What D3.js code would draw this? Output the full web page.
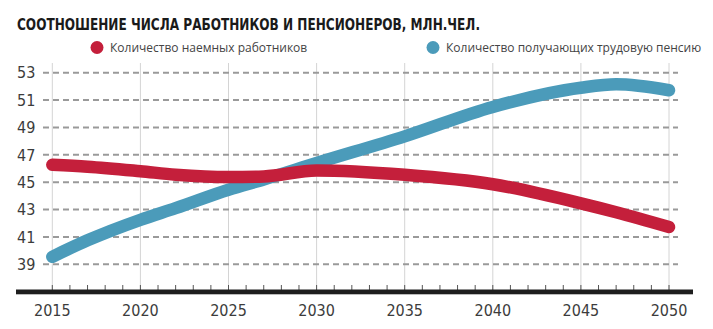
<!DOCTYPE html>
<html>
<head>
<meta charset="utf-8">
<script src="https://cdn.jsdelivr.net/npm/d3@7"></script>
<style>
  body { margin: 0; background: #fff; }
  svg { display: block; }
</style>
</head>
<body>
<div class="line-chart"></div>
<script>
(function() {
var width = 713,
    height = 329;

var svg = d3.select(".line-chart").append("svg")
    .attr("width", width)
    .attr("height", height);

// years and values (mln people)
const years = [2015, 2017, 2020, 2022, 2025, 2027, 2030, 2035, 2040, 2045, 2047, 2050];
const workers = [46.27, 46.13, 45.8, 45.55, 45.37, 45.42, 45.86, 45.54, 44.85, 43.45, 42.8, 41.72];
const pensioners = [39.55, 40.75, 42.25, 43.1, 44.45, 45.2, 46.4, 48.35, 50.5, 51.9, 52.15, 51.72];
const yTicks = [39, 41, 43, 45, 47, 49, 51, 53];
const xTicks = [2015, 2020, 2025, 2030, 2035, 2040, 2045, 2050];

const red = "#c41f3b",
    blue = "#4b9bba";

var x = d3.scaleLinear().domain([2015, 2050]).range([52.3, 669]);
var y = d3.scaleLinear().domain([39, 53]).range([264.3, 72.7]);

var numFont = "'Liberation Sans Narrow', 'DejaVu Sans Condensed', sans-serif";

// title
svg.append("text")
    .attr("x", 17)
    .attr("y", 29.5)
    .attr("textLength", 463)
    .attr("lengthAdjust", "spacingAndGlyphs")
    .style("font-family", numFont)
    .style("font-weight", "bold")
    .style("font-size", "16.5px")
    .style("fill", "#1a1a1a")
    .text("СООТНОШЕНИЕ ЧИСЛА РАБОТНИКОВ И ПЕНСИОНЕРОВ, МЛН.ЧЕЛ.");

// legend
const legend = [
    { label: "Количество наемных работников", color: red, x: 97 },
    { label: "Количество получающих трудовую пенсию", color: blue, x: 433 }
];
var lg = svg.selectAll(".legend")
    .data(legend)
    .enter().append("g")
    .attr("class", "legend")
    .attr("transform", (d) => "translate(" + d.x + ",47.5)");
lg.append("circle").attr("r", 6.5).style("fill", (d) => d.color);
lg.append("text")
    .attr("x", 13)
    .attr("dy", "0.35em")
    .style("font-family", "'Open Sans', sans-serif")
    .style("font-size", "12px")
    .style("fill", "#444")
    .text((d) => d.label);

// vertical grid
svg.append("g")
    .selectAll("line")
    .data(xTicks)
    .enter().append("line")
    .attr("x1", (d) => x(d)).attr("x2", (d) => x(d))
    .attr("y1", 63).attr("y2", 290)
    .style("stroke", "#d4d4d4")
    .style("stroke-width", 1);

// dashed horizontal grid
svg.append("g")
    .selectAll("line")
    .data(yTicks)
    .enter().append("line")
    .attr("x1", 43).attr("x2", 678)
    .attr("y1", (d) => y(d)).attr("y2", (d) => y(d))
    .style("stroke", "#9a9a9a")
    .style("stroke-width", 2)
    .style("stroke-dasharray", "6,4");

// y labels
svg.append("g")
    .selectAll("text")
    .data(yTicks)
    .enter().append("text")
    .attr("x", 17)
    .attr("y", (d) => y(d))
    .attr("dy", "0.36em")
    .style("font-family", numFont)
    .style("font-size", "16px")
    .style("fill", "#3c3c3c")
    .text((d) => d);

// minor year ticks
svg.append("g")
    .selectAll("line")
    .data(d3.range(2015, 2051))
    .enter().append("line")
    .attr("x1", (d) => x(d)).attr("x2", (d) => x(d))
    .attr("y1", 285).attr("y2", 290)
    .style("stroke", "#555")
    .style("stroke-width", 1);

// bottom axis bar
svg.append("rect")
    .attr("x", 16)
    .attr("y", 289.5)
    .attr("width", 677)
    .attr("height", 4.8)
    .style("fill", "#1e1e1e");

// x labels
svg.append("g")
    .selectAll("text")
    .data(xTicks)
    .enter().append("text")
    .attr("x", (d) => x(d))
    .attr("y", 316)
    .attr("text-anchor", "middle")
    .style("font-family", numFont)
    .style("font-size", "16px")
    .style("fill", "#3c3c3c")
    .text((d) => d);

// series lines
var line = d3.line()
    .x((d) => x(d[0]))
    .y((d) => y(d[1]))
    .curve(d3.curveMonotoneX);

const series = [
    { values: pensioners, color: blue },
    { values: workers, color: red }
];

svg.selectAll(".series")
    .data(series)
    .enter().append("path")
    .attr("class", "series")
    .attr("d", (d) => line(years.map((yr, i) => [yr, d.values[i]])))
    .style("fill", "none")
    .style("stroke", (d) => d.color)
    .style("stroke-width", 12.5)
    .style("stroke-linecap", "round")
    .style("stroke-linejoin", "round");
}())
</script>
</body>
</html>
